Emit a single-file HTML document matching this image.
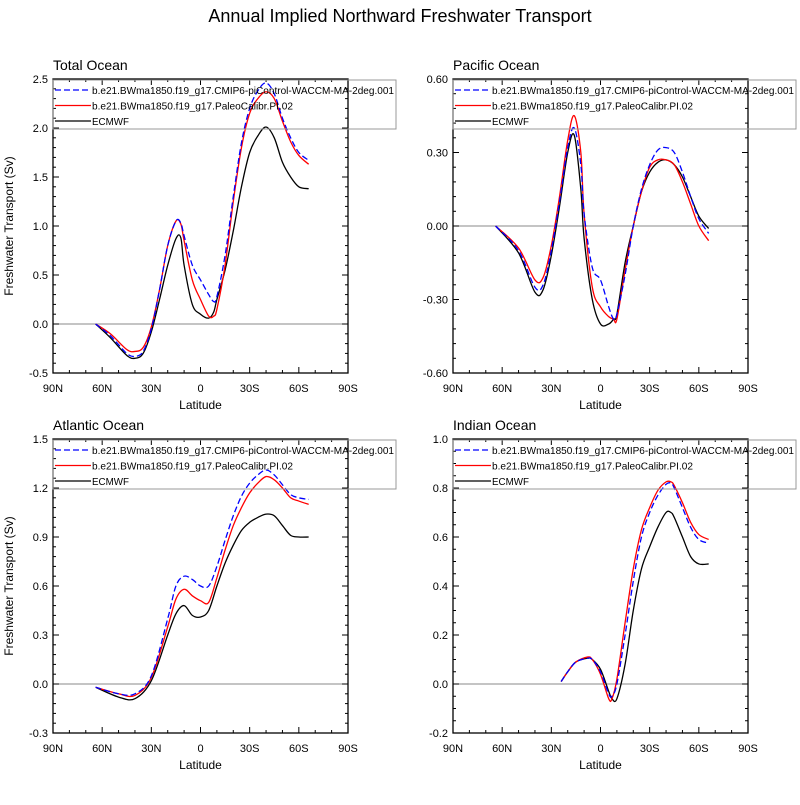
<!DOCTYPE html>
<html><head><meta charset="utf-8"><style>
body{margin:0;background:#fff;}
svg text{font-family:"Liberation Sans",Arial,sans-serif;fill:#000;}
</style></head><body>
<svg id="chart" width="800" height="800" viewBox="0 0 800 800" xmlns="http://www.w3.org/2000/svg">
<text x="400" y="22" font-size="18" text-anchor="middle">Annual Implied Northward Freshwater Transport</text>
</svg>
<script>
// Latitude in degrees (positive = N)
const totalLat=[64,55,45,40,35,30,25,20,15,12,10,5,0,-5,-8,-10,-15,-20,-25,-30,-35,-40,-45,-50,-55,-60,-66];
const totalBlue=[0,-0.12,-0.3,-0.33,-0.28,-0.05,0.35,0.8,1.05,1.03,0.9,0.6,0.45,0.3,0.23,0.28,0.7,1.3,1.85,2.2,2.38,2.46,2.35,2.1,1.9,1.75,1.67];
const totalRed=[0,-0.1,-0.26,-0.28,-0.24,-0.03,0.35,0.8,1.05,1.02,0.85,0.45,0.25,0.08,0.08,0.15,0.6,1.25,1.8,2.15,2.3,2.37,2.3,2.07,1.86,1.72,1.63];
const totalBlack=[0,-0.14,-0.32,-0.35,-0.3,-0.08,0.25,0.6,0.87,0.88,0.6,0.2,0.1,0.06,0.12,0.25,0.55,0.95,1.4,1.75,1.92,2.01,1.9,1.65,1.5,1.4,1.38];
const pacLat=[64,50,40,35,30,25,20,16,12,10,5,0,-5,-8,-10,-15,-20,-25,-30,-35,-40,-45,-50,-55,-60,-66];
const pacBlue=[0,-0.1,-0.25,-0.24,-0.1,0.1,0.32,0.4,0.25,0.05,-0.17,-0.22,-0.33,-0.38,-0.36,-0.2,0,0.15,0.25,0.31,0.32,0.3,0.22,0.12,0.03,-0.03];
const pacRed=[0,-0.09,-0.22,-0.21,-0.08,0.12,0.35,0.45,0.3,0.05,-0.25,-0.33,-0.37,-0.38,-0.38,-0.18,0,0.14,0.24,0.27,0.27,0.25,0.18,0.09,0,-0.06];
const pacBlack=[0,-0.11,-0.27,-0.26,-0.12,0.08,0.3,0.37,0.15,-0.05,-0.3,-0.4,-0.4,-0.38,-0.36,-0.15,0,0.14,0.22,0.26,0.27,0.25,0.2,0.12,0.04,-0.01];
const atlLat=[64,50,40,30,20,15,10,5,0,-5,-10,-15,-20,-25,-30,-35,-40,-45,-50,-55,-60,-66];
const atlBlue=[-0.02,-0.06,-0.06,0.05,0.4,0.6,0.66,0.64,0.6,0.6,0.72,0.88,1.03,1.15,1.23,1.28,1.31,1.28,1.22,1.16,1.14,1.13];
const atlRed=[-0.02,-0.06,-0.07,0.04,0.35,0.52,0.58,0.54,0.51,0.5,0.65,0.82,0.97,1.08,1.17,1.23,1.27,1.25,1.2,1.14,1.12,1.1];
const atlBlack=[-0.02,-0.08,-0.09,0.02,0.3,0.43,0.48,0.42,0.41,0.45,0.6,0.74,0.85,0.94,0.99,1.02,1.04,1.03,0.97,0.91,0.9,0.9];
const indLat=[24,20,15,8,5,0,-5,-7,-10,-15,-20,-25,-30,-35,-40,-43,-45,-50,-55,-60,-66];
const indBlue=[0.01,0.05,0.09,0.105,0.1,0.05,-0.04,-0.05,0,0.2,0.42,0.6,0.7,0.77,0.815,0.82,0.8,0.72,0.64,0.59,0.575];
const indRed=[0.01,0.05,0.09,0.11,0.1,0.04,-0.06,-0.06,0.02,0.25,0.47,0.63,0.72,0.79,0.825,0.825,0.81,0.74,0.66,0.61,0.59];
const indBlack=[0.01,0.05,0.09,0.105,0.1,0.06,-0.03,-0.06,-0.06,0.08,0.3,0.47,0.56,0.64,0.7,0.7,0.68,0.6,0.52,0.49,0.49];
const panelTitles=["Total Ocean","Pacific Ocean","Atlantic Ocean","Indian Ocean"];
const yRanges=[[-0.5,2.5],[-0.6,0.6],[-0.3,1.5],[-0.2,1.0]];
const yMajor=[0.5,0.3,0.3,0.2];
const yMinor=[0.1,0.06,0.06,0.05];
const yDec=[1,2,1,1];
const xTickVals=[90,60,30,0,-30,-60,-90];
const xTickLabels=["90N","60N","30N","0","30S","60S","90S"];
const legendLabels=["b.e21.BWma1850.f19_g17.CMIP6-piControl-WACCM-MA-2deg.001","b.e21.BWma1850.f19_g17.PaleoCalibr.PI.02","ECMWF"];
const legendWidths=[302,201,37];

const NS="http://www.w3.org/2000/svg";
const svg=document.getElementById('chart');
function mk(tag,attrs,parent){const e=document.createElementNS(NS,tag);for(const k in attrs)e.setAttribute(k,attrs[k]);(parent||svg).appendChild(e);return e;}
function catmull(pts){let d="M"+pts[0][0].toFixed(2)+","+pts[0][1].toFixed(2);for(let i=0;i<pts.length-1;i++){const p0=pts[Math.max(0,i-1)],p1=pts[i],p2=pts[i+1],p3=pts[Math.min(pts.length-1,i+2)];const c1=[p1[0]+(p2[0]-p0[0])/6,p1[1]+(p2[1]-p0[1])/6],c2=[p2[0]-(p3[0]-p1[0])/6,p2[1]-(p3[1]-p1[1])/6];d+="C"+c1.map(v=>v.toFixed(2))+" "+c2.map(v=>v.toFixed(2))+" "+p2.map(v=>v.toFixed(2));}return d;}
const panels=[
 {x0:53,y0:79,lat:totalLat,s:[totalBlue,totalRed,totalBlack]},
 {x0:453,y0:79,lat:pacLat,s:[pacBlue,pacRed,pacBlack]},
 {x0:53,y0:439,lat:atlLat,s:[atlBlue,atlRed,atlBlack]},
 {x0:453,y0:439,lat:indLat,s:[indBlue,indRed,indBlack]}];
const W=295,H=294;
const styles=[{c:"#0000ff",d:"6,3"},{c:"#ff0000",d:""},{c:"#000000",d:""}];
const seriesNames=["series-waccm","series-paleocalibr","series-ecmwf"];
panels.forEach((p,i)=>{
 const g=mk('g',{});
 
 
 const [ymin,ymax]=yRanges[i];
 const xs=lat=>p.x0+(90-lat)/180*W;
 const ys=v=>p.y0+(ymax-v)/(ymax-ymin)*H;
 const t=mk('text',{x:p.x0,y:p.y0-9,'font-size':14},g);t.textContent=panelTitles[i];
 
 
 const z=mk('line',{x1:p.x0,x2:p.x0+W,y1:ys(0),y2:ys(0),stroke:'#888','stroke-width':1},g);
 
 
 for(let lat=90;lat>=-90;lat-=10){const x=xs(lat);const maj=lat%30===0;const L=maj?6:3;
  mk('line',{x1:x,x2:x,y1:p.y0+H,y2:p.y0+H-L,stroke:'#000'},g);mk('line',{x1:x,x2:x,y1:p.y0,y2:p.y0+L,stroke:'#000'},g);}
 xTickVals.forEach((v,k)=>{const tx=mk('text',{x:xs(v),y:p.y0+H+19,'font-size':11,'text-anchor':'middle'},g);tx.textContent=xTickLabels[k];
  
  });
 const nMin=Math.round((ymax-ymin)/yMinor[i]);
 for(let k=0;k<=nMin;k++){const v=ymin+k*yMinor[i];const y=ys(v);const maj=Math.abs(((v-ymin)/yMajor[i])-Math.round((v-ymin)/yMajor[i]))<1e-6;const L=maj?6:3;
  mk('line',{x1:p.x0,x2:p.x0+L,y1:y,y2:y,stroke:'#000'},g);mk('line',{x1:p.x0+W,x2:p.x0+W-L,y1:y,y2:y,stroke:'#000'},g);
  if(maj){const ty=mk('text',{x:p.x0-5,y:y+4,'font-size':11,'text-anchor':'end'},g);ty.textContent=v.toFixed(yDec[i]);
   
   }}
 const fr=mk('rect',{x:p.x0,y:p.y0,width:W,height:H,fill:'none',stroke:'#000','stroke-width':1.3},g);
 
 
 const xl=mk('text',{x:p.x0+W/2,y:p.y0+H+36,'font-size':12,'text-anchor':'middle'},g);xl.textContent="Latitude";
 
 
 if(p.x0<100){const yl=mk('text',{x:0,y:0,'font-size':12,'text-anchor':'middle',transform:`translate(13,${p.y0+H/2}) rotate(-90)`},g);yl.textContent="Freshwater Transport (Sv)";
  
  }
 [2,1,0].forEach(si=>{const pts=p.lat.map((la,k)=>[xs(la),ys(p.s[si][k])]);
  const path=mk('path',{d:catmull(pts),fill:'none',stroke:styles[si].c,'stroke-width':1.3,'stroke-dasharray':styles[si].d},g);
  
  });
 const lg=mk('g',{},g);
 
 
 mk('rect',{x:p.x0,y:p.y0+1,width:343,height:49,fill:'none',stroke:'#999','stroke-width':1},lg);
 legendLabels.forEach((lab,k)=>{const y=p.y0+11+k*15.5;
  mk('line',{x1:p.x0+2,x2:p.x0+38,y1:y,y2:y,stroke:styles[k].c,'stroke-width':1.3,'stroke-dasharray':styles[k].d},lg);
  const lt=mk('text',{x:p.x0+39,y:y+4,'font-size':10.5,textLength:legendWidths[k],lengthAdjust:'spacingAndGlyphs'},lg);lt.textContent=lab;
  
  });
});
</script>
</body></html>
